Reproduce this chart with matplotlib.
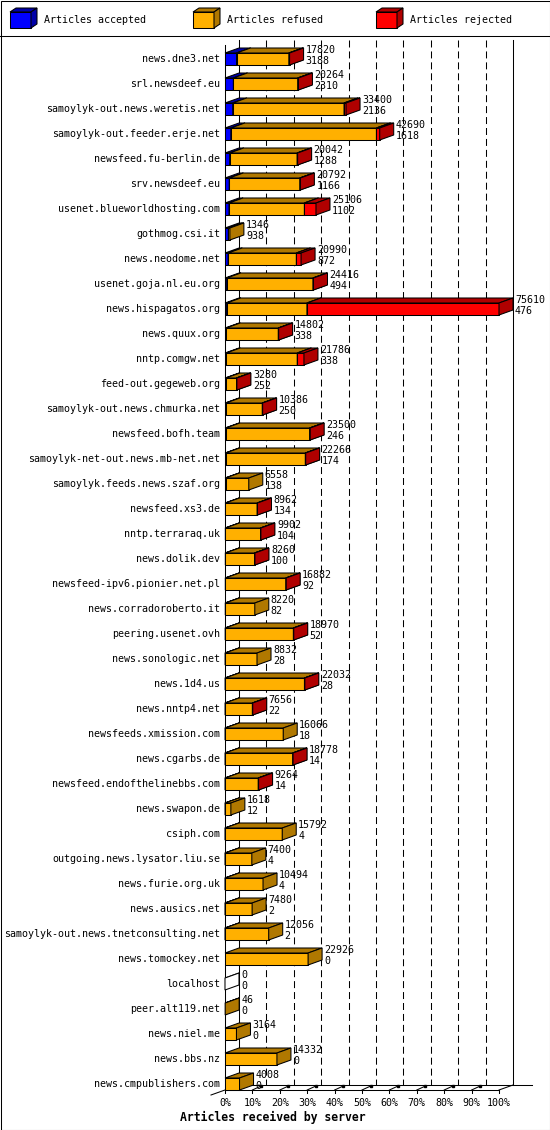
import matplotlib
matplotlib.use("Agg")
import matplotlib.pyplot as plt
from matplotlib.patches import Polygon, Rectangle

servers = [
    "news.dne3.net", "srl.newsdeef.eu", "samoylyk-out.news.weretis.net",
    "samoylyk-out.feeder.erje.net", "newsfeed.fu-berlin.de", "srv.newsdeef.eu",
    "usenet.blueworldhosting.com", "gothmog.csi.it", "news.neodome.net",
    "usenet.goja.nl.eu.org", "news.hispagatos.org", "news.quux.org",
    "nntp.comgw.net", "feed-out.gegeweb.org", "samoylyk-out.news.chmurka.net",
    "newsfeed.bofh.team", "samoylyk-net-out.news.mb-net.net",
    "samoylyk.feeds.news.szaf.org", "newsfeed.xs3.de", "nntp.terraraq.uk",
    "news.dolik.dev", "newsfeed-ipv6.pionier.net.pl", "news.corradoroberto.it",
    "peering.usenet.ovh", "news.sonologic.net", "news.1d4.us", "news.nntp4.net",
    "newsfeeds.xmission.com", "news.cgarbs.de", "newsfeed.endofthelinebbs.com",
    "news.swapon.de", "csiph.com", "outgoing.news.lysator.liu.se",
    "news.furie.org.uk", "news.ausics.net", "samoylyk-out.news.tnetconsulting.net",
    "news.tomockey.net", "localhost", "peer.alt119.net", "news.niel.me",
    "news.bbs.nz", "news.cmpublishers.com",
]
total = [
    17820, 20264, 33400, 42690, 20042, 20792, 25106, 1346, 20990, 24416,
    75610, 14802, 21786, 3280, 10386, 23500, 22266, 6558, 8962, 9902,
    8260, 16882, 8220, 18970, 8832, 22032, 7656, 16066, 18778, 9264,
    1618, 15792, 7400, 10494, 7480, 12056, 22926, 0, 46, 3164,
    14332, 4008,
]
accepted = [
    3188, 2310, 2136, 1618, 1288, 1166, 1102, 938, 872, 494,
    476, 338, 338, 252, 250, 246, 174, 138, 134, 104,
    100, 92, 82, 52, 28, 28, 22, 18, 14, 14,
    12, 4, 4, 4, 2, 2, 0, 0, 0, 0,
    0, 0,
]
refused = [
    14432, 17754, 30714, 40172, 18604, 19476, 20804, 408, 18818, 23772,
    22134, 14364, 19598, 2928, 10036, 23104, 21992, 6420, 8728, 9698,
    8060, 16690, 8138, 18818, 8804, 21904, 7534, 16048, 18664, 9150,
    1606, 15788, 7396, 10490, 7478, 12054, 22926, 0, 46, 3164,
    14332, 4008,
]
rejected = [
    200, 200, 550, 900, 150, 150, 3200, 0, 1300, 150,
    53000, 100, 1850, 100, 100, 150, 100, 0, 100, 100,
    100, 100, 0, 100, 0, 100, 100, 0, 100, 100,
    0, 0, 0, 0, 0, 0, 0, 0, 0, 0,
    0, 0,
]

series_names = ["Articles accepted", "Articles refused", "Articles rejected"]
face_colors = ["#0000ff", "#ffb000", "#ff0000"]
dark_colors = ["#0000a8", "#b07800", "#b00000"]
pct_labels = ["%d%%" % (10 * j) for j in range(11)]

W, H, DPI = 550, 1130, 100
FONT = "DejaVu Sans Mono"
FS = 7.2
LW = 0.75

fig = plt.figure(figsize=(W / DPI, H / DPI), dpi=DPI)

# pixel space overlay for frame, legend and title
ov = fig.add_axes([0, 0, 1, 1])
ov.set_xlim(0, W)
ov.set_ylim(H, 0)
ov.axis("off")

n = len(servers)
vmax = max(total)
PX_LEFT, PX_RIGHT = 225, 499
PX_TOP, PITCH = 46.5, 25.0
ax = fig.add_axes([PX_LEFT / W, 1 - (PX_TOP + n * PITCH) / H,
                   (PX_RIGHT - PX_LEFT) / W, n * PITCH / H])
ax.set_xlim(0, vmax)
ax.set_ylim(n - 0.5, -0.5)
ax.axis("off")

px_x = vmax / (PX_RIGHT - PX_LEFT)   # data units per pixel (x)
px_y = 1.0 / PITCH                   # rows per pixel (y)
D = 14 * px_x
E = 5 * px_y
HH = 6 * px_y


def box3d(a, x0, x1, yt, yb, dx, dy, face, dark, z=3):
    front = [(x0, yt), (x1, yt), (x1, yb), (x0, yb)]
    top = [(x0, yt), (x1, yt), (x1 + dx, yt - dy), (x0 + dx, yt - dy)]
    side = [(x1, yt), (x1 + dx, yt - dy), (x1 + dx, yb - dy), (x1, yb)]
    for pts, col in ((front, face), (top, dark), (side, dark)):
        a.add_patch(Polygon(pts, closed=True, facecolor=col, edgecolor="black",
                            lw=LW, joinstyle="miter", zorder=z, clip_on=False))


# walls and floor
top_front = -0.5 - 1.5 * px_y
top_back = top_front - E
floor_front = n - 1 + HH
floor_back = floor_front - E
line_kw = dict(color="black", lw=LW, clip_on=False, zorder=1)
for j in range(11):
    xb = vmax * j / 10 + D
    ls = "-" if j in (0, 10) else (0, (6.7, 3.8))
    ax.plot([xb, xb], [top_back, floor_back], ls=ls, **line_kw)
ax.plot([0, 0], [top_front, floor_front], **line_kw)
ax.plot([0, vmax], [floor_front, floor_front], **line_kw)
ax.plot([D, vmax + D + 19 * px_x], [floor_back, floor_back], **line_kw)
ax.plot([vmax, vmax + D], [floor_front, floor_back], **line_kw)
ax.plot([D, -D], [floor_back, floor_front + E], **line_kw)

for j in range(11):
    x = vmax * j / 10
    ax.plot([x, x], [floor_front, floor_front + 3 * px_y], **line_kw)
    if 0 < j < 10:
        ax.plot([x, x + 0.62 * D], [floor_front, floor_front - 0.8 * E], **line_kw)
        ax.plot([x + 0.62 * D], [floor_front - 0.8 * E], marker="s", ms=1.6,
                color="black", clip_on=False, zorder=1)
    ax.annotate(pct_labels[j], xy=(x, floor_front), xytext=(0, -13),
                textcoords="offset pixels", ha="center", va="center",
                family=FONT, fontsize=FS)

# bars
for i in range(n):
    yt, yb = i - HH, i + HH
    x0 = 0
    drawn = False
    for v, fc, dc in zip((accepted[i], refused[i], rejected[i]), face_colors, dark_colors):
        if v > 0:
            box3d(ax, x0, x0 + v, yt, yb, D, E, fc, dc)
            x0 += v
            drawn = True
    if not drawn:
        box3d(ax, 0, 0, yt, yb, D, E, "white", "white")
    ax.annotate(servers[i], xy=(0, i), xytext=(-5, 0), textcoords="offset pixels",
                ha="right", va="center", family=FONT, fontsize=FS)
    ax.annotate(str(total[i]), xy=(total[i], i), xytext=(16, 9),
                textcoords="offset pixels", ha="left", va="center",
                family=FONT, fontsize=FS, zorder=5)
    ax.annotate(str(accepted[i]), xy=(total[i], i), xytext=(16, -2),
                textcoords="offset pixels", ha="left", va="center",
                family=FONT, fontsize=FS, zorder=5)

# legend
for k, name in enumerate(series_names):
    lx = 10 + 183 * k
    box3d(ov, lx, lx + 21, 12, 28, 6, 4, face_colors[k], dark_colors[k])
    ov.text(lx + 34, 20, name, ha="left", va="center", family=FONT, fontsize=FS)

ov.plot([0, W], [35.5, 35.5], color="black", lw=LW)
ov.add_patch(Rectangle((0.5, 0.5), W - 1, H - 1, fill=False, edgecolor="black", lw=LW))
ov.text(273, 1117, "Articles received by server", ha="center", va="center",
        family=FONT, fontsize=8.3, fontweight="bold")

fig.savefig("out.png", dpi=DPI, facecolor="white")
